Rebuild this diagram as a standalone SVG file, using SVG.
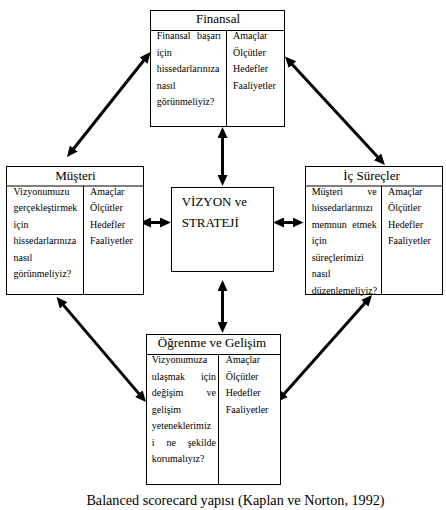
<svg xmlns="http://www.w3.org/2000/svg" width="446" height="510" viewBox="0 0 446 510">
<style>
.box{fill:#fff;stroke:#000;stroke-width:1}
.ln{stroke:#000;stroke-width:1;fill:none}
text{font-family:"Liberation Serif","Times New Roman",serif;fill:#000}
.h{font-size:13px;text-anchor:middle}
.b{font-size:10px}
.e{text-anchor:end}
.c{font-size:13px}
.cap{font-size:14.2px;text-anchor:middle}
.ar{stroke:#000;stroke-width:3;fill:none;marker-start:url(#ah);marker-end:url(#ah)}
</style>
<defs>
<marker id="ah" markerUnits="userSpaceOnUse" markerWidth="11" markerHeight="10" viewBox="0 0 11 10" refX="1" refY="5" orient="auto-start-reverse">
<path d="M0,0 L11,5 L0,10 z" fill="#000"/>
</marker>
</defs>
<rect width="446" height="510" fill="#fff"/>

<g id="connectors">
<line class="ar" x1="144.3" y1="59.8" x2="73.2" y2="149.2"/>
<line class="ar" x1="291.8" y1="63.9" x2="378.2" y2="157.6"/>
<line class="ar" x1="63.0" y1="304.6" x2="139.5" y2="394.4"/>
<line class="ar" x1="365.4" y1="302.5" x2="283.6" y2="394.5"/>
<line class="ar" x1="222.5" y1="137" x2="222.5" y2="176"/>
<line class="ar" x1="222.5" y1="290" x2="222.5" y2="323"/>
<line class="ar" x1="150" y1="222.5" x2="161" y2="222.5"/>
<line class="ar" x1="283" y1="222.5" x2="293.5" y2="222.5"/>
</g>

<g id="finansal">
<rect class="box" x="150.5" y="10.5" width="134" height="116"/>
<line class="ln" x1="150.5" y1="30.5" x2="284.5" y2="30.5"/>
<line class="ln" x1="226.5" y1="30.5" x2="226.5" y2="126.5"/>
<text class="h" x="218" y="23">Finansal</text>
<text class="b" x="156.7" y="39">Finansal</text>
<text class="b e" x="221" y="39">başarı</text>
<text class="b" x="156.7" y="55.5">için</text>
<text class="b" x="156.7" y="72">hissedarlarınıza</text>
<text class="b" x="156.7" y="88.5">nasıl</text>
<text class="b" x="156.7" y="105">görünmeliyiz?</text>
<text class="b" x="233" y="39">Amaçlar</text>
<text class="b" x="233" y="55.5">Ölçütler</text>
<text class="b" x="233" y="72">Hedefler</text>
<text class="b" x="233" y="88.5">Faaliyetler</text>
</g>

<g id="musteri">
<rect class="box" x="6.5" y="166.5" width="137" height="128"/>
<line class="ln" x1="6.5" y1="186" x2="143.5" y2="186"/>
<line class="ln" x1="83.5" y1="186" x2="83.5" y2="294.5"/>
<text class="h" x="75.5" y="179.5">Müşteri</text>
<text class="b" x="13.5" y="194.5">Vizyonumuzu</text>
<text class="b" x="13.5" y="211">gerçekleştirmek</text>
<text class="b" x="13.5" y="227.5">için</text>
<text class="b" x="13.5" y="244">hissedarlarınıza</text>
<text class="b" x="13.5" y="260.5">nasıl</text>
<text class="b" x="13.5" y="277">görünmeliyiz?</text>
<text class="b" x="90" y="194.5">Amaçlar</text>
<text class="b" x="90" y="211">Ölçütler</text>
<text class="b" x="90" y="227.5">Hedefler</text>
<text class="b" x="90" y="244">Faaliyetler</text>
</g>

<g id="ic-surecler">
<rect class="box" x="305.5" y="166.5" width="137" height="128"/>
<line class="ln" x1="305.5" y1="186" x2="442.5" y2="186"/>
<line class="ln" x1="381.5" y1="186" x2="381.5" y2="294.5"/>
<text class="h" x="371.5" y="180">İç Süreçler</text>
<text class="b" x="311.7" y="194.5">Müşteri</text>
<text class="b e" x="376.7" y="194.5">ve</text>
<text class="b" x="311.7" y="211">hissedarlarınızı</text>
<text class="b" x="311.7" y="227.5">memnun</text>
<text class="b e" x="376.7" y="227.5">etmek</text>
<text class="b" x="311.7" y="244">için</text>
<text class="b" x="311.7" y="260.5">süreçlerimizi</text>
<text class="b" x="311.7" y="277">nasıl</text>
<text class="b" x="311.7" y="293.5">düzenlemeliyiz?</text>
<text class="b" x="388" y="194.5">Amaçlar</text>
<text class="b" x="388" y="211">Ölçütler</text>
<text class="b" x="388" y="227.5">Hedefler</text>
<text class="b" x="388" y="244">Faaliyetler</text>
</g>

<g id="vizyon">
<rect class="box" x="171.5" y="187.5" width="102" height="84"/>
<text class="c" x="181.7" y="206">VİZYON ve</text>
<text class="c" x="181.7" y="226.5">STRATEJİ</text>
</g>

<g id="ogrenme">
<rect class="box" x="146.5" y="334.5" width="134" height="150"/>
<line class="ln" x1="146.5" y1="354.5" x2="280.5" y2="354.5"/>
<line class="ln" x1="218.5" y1="354.5" x2="218.5" y2="484.5"/>
<text class="h" x="212" y="346.5">Öğrenme ve Gelişim</text>
<text class="b" x="151.7" y="363">Vizyonumuza</text>
<text class="b" x="151.7" y="379.5">ulaşmak</text>
<text class="b e" x="216" y="379.5">için</text>
<text class="b" x="151.7" y="396">değişim</text>
<text class="b e" x="216" y="396">ve</text>
<text class="b" x="151.7" y="412.5">gelişim</text>
<text class="b" x="151.7" y="429">yeteneklerimiz</text>
<text class="b" x="151.7" y="445.5">i</text>
<text class="b" x="166.4" y="445.5">ne</text>
<text class="b e" x="216" y="445.5">şekilde</text>
<text class="b" x="151.7" y="462">korumalıyız?</text>
<text class="b" x="225.7" y="363">Amaçlar</text>
<text class="b" x="225.7" y="379.5">Ölçütler</text>
<text class="b" x="225.7" y="396">Hedefler</text>
<text class="b" x="225.7" y="412.5">Faaliyetler</text>
</g>

<text class="cap" x="235.5" y="505">Balanced scorecard yapısı (Kaplan ve Norton, 1992)</text>
</svg>
